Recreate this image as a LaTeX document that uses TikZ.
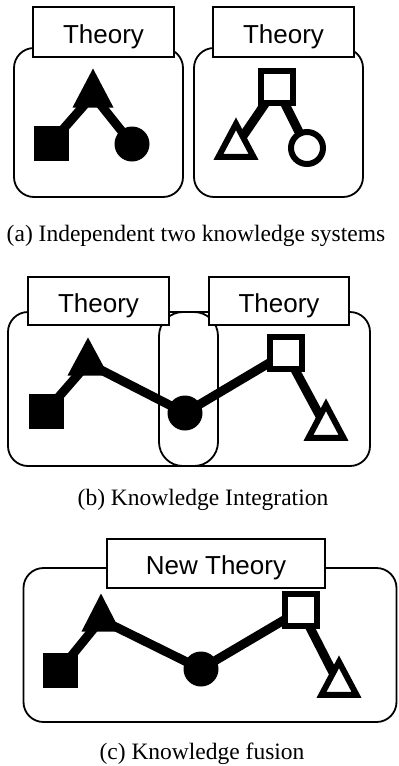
\documentclass[tikz,border=0pt]{standalone}
\usepackage{fontspec}
\setmainfont{Liberation Serif}
\newfontfamily\lsans{Liberation Sans}
\usetikzlibrary{shapes.geometric}
\pgfdeclarelayer{bglayer}
\pgfdeclarelayer{linklayer}
\pgfsetlayers{bglayer,linklayer,main}
\tikzset{
  panel/.style={draw, line width=1.8pt, rounded corners=20pt, inner sep=0pt},
  pill/.style={draw, line width=1.8pt, rounded corners=24pt, inner sep=0pt},
  lab/.style={draw, fill=white, line width=1.3pt, inner sep=0pt, font=\lsans\fontsize{26}{28}\selectfont,
              text height=24pt, text depth=2pt},
  captxt/.style={anchor=base, inner sep=0pt, font=\fontsize{23.5}{26}\selectfont},
  link/.style={line width=9pt, line join=round},
  fsq/.style={fill=black, minimum size=35pt, inner sep=0pt},
  fcirc/.style={circle, fill=black, minimum size=35pt, inner sep=0pt},
  ftri/.style={isosceles triangle, isosceles triangle stretches, shape border rotate=90,
               fill=black, inner sep=0pt, anchor=apex},
  osq/.style={draw, line width=6pt, fill=white, minimum size=32pt, inner sep=0pt},
  ocirc/.style={circle, draw, line width=6pt, fill=white, minimum size=32pt, inner sep=0pt},
  otri/.style={isosceles triangle, isosceles triangle stretches, shape border rotate=90,
               draw, line width=6pt, fill=white, inner sep=0pt, anchor=apex,
               minimum width=35pt, minimum height=33pt, line join=miter},
}
\begin{document}
\begin{tikzpicture}[x=1pt,y=-1pt]
\useasboundingbox (0,0) rectangle (399,766);

% ---------- (a) ----------
\begin{pgfonlayer}{bglayer}
\node[panel, minimum width=169pt, minimum height=149pt] (pa1) at (98.5,122.5) {};
\node[panel, minimum width=169pt, minimum height=149pt] (pa2) at (278.5,122.5) {};
\node[lab, minimum width=141pt, minimum height=50pt] (la1) at (103.5,32) {Theory};
\node[lab, minimum width=141pt, minimum height=50pt] (la2) at (283.5,32) {Theory};
\end{pgfonlayer}

\node[fsq] (sa1) at (51,143) {};
\node[ftri, minimum width=41pt, minimum height=39pt] (ta1) at (93,68) {};
\node[fcirc] (ca1) at (132,144) {};
\node[osq] (sa2) at (276.5,87) {};
\node[otri] (ta2) at (236,116) {};
\node[ocirc] (ca2) at (307,148) {};

\begin{pgfonlayer}{linklayer}
\draw[link] (sa1.center) -- (ta1.center) -- (ca1.center);
\draw[link] (sa2.center) -- (ta2.center);
\draw[link] (sa2.center) -- (ca2.center);
\end{pgfonlayer}

\node[captxt] (capa) at (196,241) {(a) Independent two knowledge systems};

% ---------- (b) ----------
\begin{pgfonlayer}{bglayer}
\node[panel, minimum width=362pt, minimum height=154pt] (pb) at (189,389) {};
\node[pill, minimum width=59pt, minimum height=154pt] (pbm) at (188.5,389) {};
\node[lab, minimum width=141pt, minimum height=48pt] (lb1) at (98.5,301) {Theory};
\node[lab, minimum width=140pt, minimum height=48pt] (lb2) at (279,301) {Theory};
\end{pgfonlayer}

\node[fsq] (sb1) at (46,411.5) {};
\node[ftri, minimum width=41pt, minimum height=38pt] (tb1) at (88,337) {};
\node[fcirc] (cb1) at (185,413) {};
\node[osq] (sb2) at (286,353) {};
\node[otri] (tb2) at (326,397) {};

\begin{pgfonlayer}{linklayer}
\draw[link] (sb1.center) -- (tb1.center) -- (cb1.center) -- (sb2.center) -- (tb2.center);
\end{pgfonlayer}

\node[captxt] (capb) at (203,505) {(b) Knowledge Integration};

% ---------- (c) ----------
\begin{pgfonlayer}{bglayer}
\node[panel, minimum width=373pt, minimum height=154pt] (pc) at (210,645) {};
\node[lab, minimum width=218pt, minimum height=49pt] (lc) at (216,563.5) {New Theory};
\end{pgfonlayer}

\node[fsq] (sc1) at (60,670) {};
\node[ftri, minimum width=39pt, minimum height=38pt] (tc1) at (101,593) {};
\node[fcirc] (cc1) at (201,669) {};
\node[osq] (sc2) at (301,610) {};
\node[otri] (tc2) at (339,654) {};

\begin{pgfonlayer}{linklayer}
\draw[link] (sc1.center) -- (tc1.center) -- (cc1.center) -- (sc2.center) -- (tc2.center);
\end{pgfonlayer}

\node[captxt] (capc) at (202,759) {(c) Knowledge fusion};
\end{tikzpicture}
\end{document}
